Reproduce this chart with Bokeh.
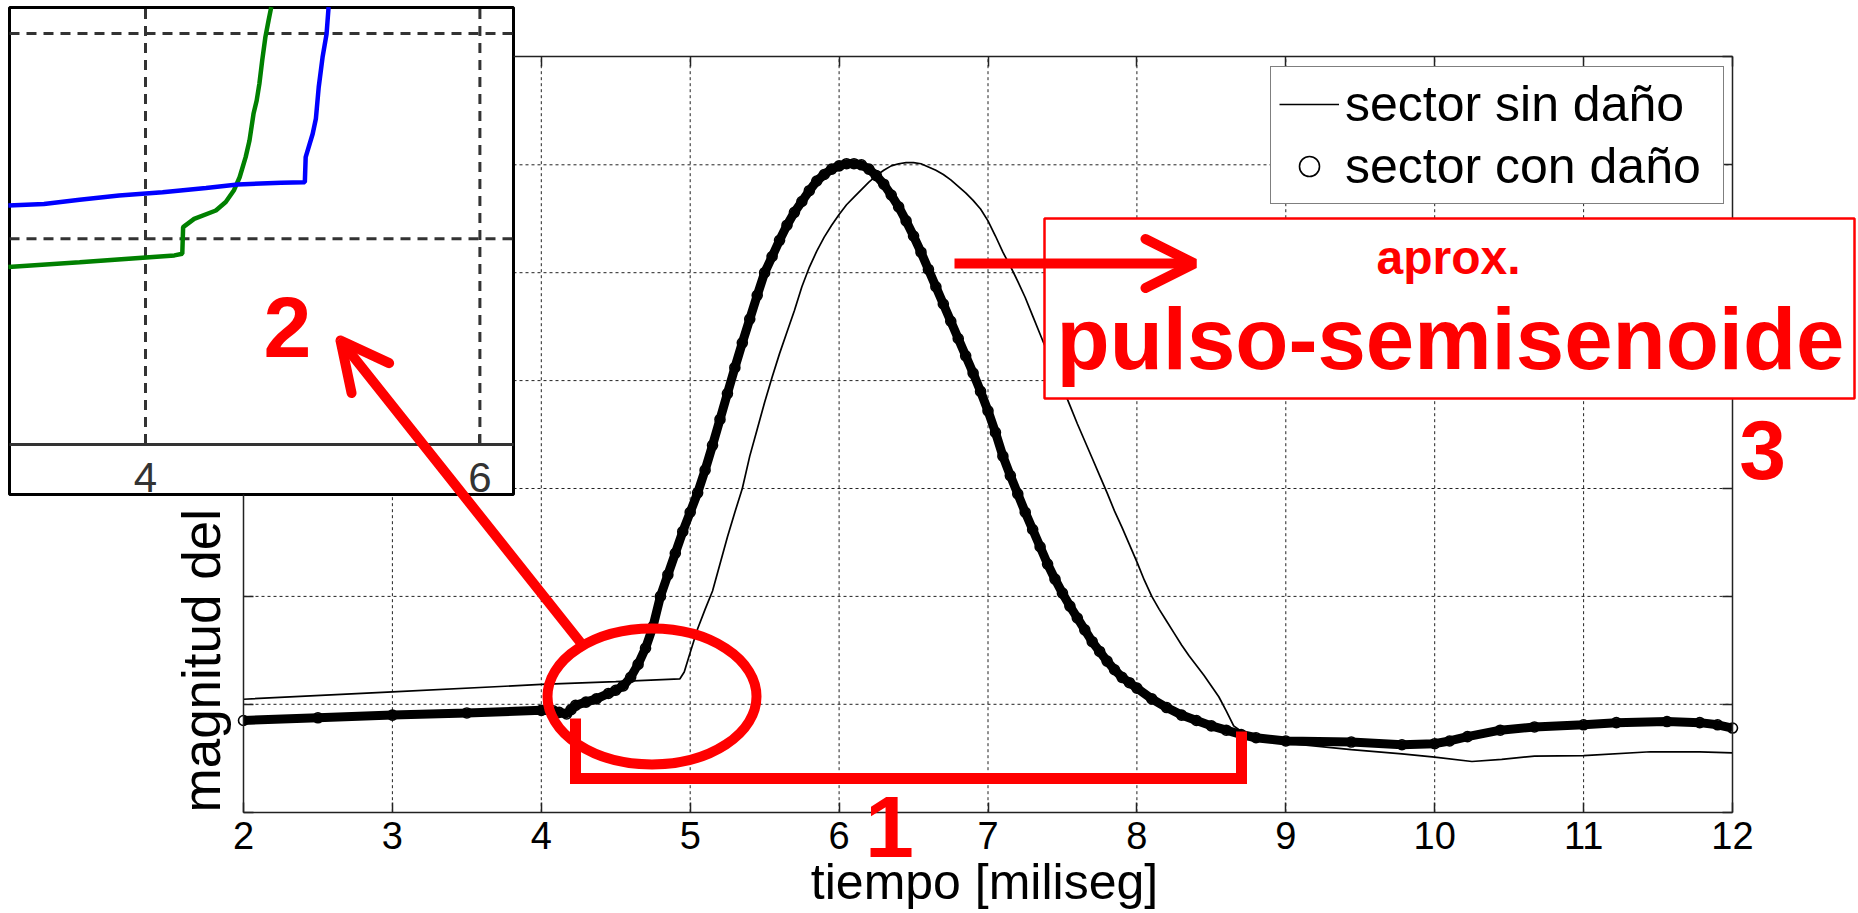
from math import pi
from bokeh.plotting import figure
from bokeh.models import (Range1d, LinearAxis, FixedTicker, Legend, LegendItem,
                          Label, Arrow, OpenHead, BoxAnnotation)
from bokeh.embed import file_html
from bokeh.resources import INLINE

W, H = 1858, 913

# ---------------- data ----------------
x_ticks = [2, 3, 4, 5, 6, 7, 8, 9, 10, 11, 12]
y_ticks = [0, 1, 2, 3, 4, 5, 6, 7]
legend_labels = ["sector sin daño", "sector con daño"]

t_sin = [2.0, 3.0, 4.0, 4.5, 4.93, 4.96,
         5.0, 5.05, 5.1, 5.15, 5.2, 5.25, 5.3, 5.35, 5.4, 5.45,
         5.5, 5.55, 5.6, 5.65, 5.7, 5.75, 5.8, 5.85, 5.9, 5.95,
         6.0, 6.05, 6.1, 6.15, 6.2, 6.25, 6.3, 6.35, 6.4, 6.45,
         6.5, 6.55, 6.6, 6.65, 6.7, 6.75, 6.8, 6.85, 6.9, 6.95,
         7.0, 7.05, 7.1, 7.15, 7.2, 7.25, 7.3, 7.35, 7.4, 7.45,
         7.5, 7.55, 7.6, 7.65, 7.7, 7.75, 7.8, 7.85, 7.9, 7.95,
         8.0, 8.05, 8.1, 8.15, 8.2, 8.25, 8.3, 8.35, 8.4, 8.45,
         8.5, 8.55, 8.6, 8.65, 8.7,
         8.8, 9.0, 9.44, 9.78, 10.0, 10.25, 10.45, 10.67, 11.0, 11.45, 11.78, 12.0]
y_sin = [1.047, 1.115, 1.184, 1.21, 1.235, 1.3,
         1.48, 1.7, 1.88, 2.05, 2.3, 2.55, 2.78, 3.0, 3.3, 3.55,
         3.8, 4.03, 4.25, 4.45, 4.65, 4.87, 5.05, 5.2, 5.33, 5.44,
         5.54, 5.63, 5.7, 5.77, 5.84, 5.9, 5.95, 5.99, 6.01, 6.02,
         6.02, 6.01, 5.98, 5.95, 5.91, 5.86, 5.8, 5.74, 5.67, 5.59,
         5.48, 5.34, 5.19, 5.06, 4.92, 4.77, 4.6, 4.43, 4.26, 4.1,
         3.94, 3.77, 3.6, 3.44, 3.28, 3.12, 2.96, 2.79, 2.64, 2.48,
         2.32, 2.15, 2.0, 1.88, 1.77, 1.66, 1.55, 1.45, 1.36, 1.27,
         1.17, 1.07, 0.94, 0.8, 0.75,
         0.70, 0.64, 0.58, 0.54, 0.51, 0.47, 0.49, 0.52, 0.525, 0.56, 0.56, 0.55]

t_con = [2.0, 2.5, 3.0, 3.5, 4.0, 4.08, 4.12, 4.17, 4.2, 4.23,
         4.3, 4.37, 4.45, 4.5, 4.55,
         4.6, 4.65, 4.7, 4.75, 4.8, 4.85, 4.9, 4.95,
         5.0, 5.05, 5.1, 5.15, 5.2, 5.25, 5.3, 5.35, 5.4, 5.45,
         5.5, 5.55, 5.6, 5.65, 5.7, 5.75, 5.8, 5.85, 5.9, 5.95,
         6.0, 6.05, 6.1, 6.15, 6.2, 6.25, 6.3, 6.35, 6.4, 6.45,
         6.5, 6.55, 6.6, 6.65, 6.7, 6.75, 6.8, 6.85, 6.9, 6.95,
         7.0, 7.05, 7.1, 7.15, 7.2, 7.25, 7.3, 7.35, 7.4, 7.45,
         7.5, 7.55, 7.6, 7.65, 7.7, 7.75, 7.8, 7.85, 7.9, 7.95,
         8.0, 8.1, 8.2, 8.3, 8.4, 8.5, 8.6, 8.7, 8.8,
         9.0, 9.44, 9.78, 10.0, 10.1, 10.22, 10.44, 10.67, 11.0, 11.22,
         11.56, 11.78, 11.9, 12.0]
y_con = [0.85, 0.875, 0.90, 0.92, 0.944, 0.94, 0.925, 0.91, 0.95, 0.99,
         1.02, 1.05, 1.10, 1.13, 1.17,
         1.25, 1.37, 1.52, 1.72, 2.0, 2.2, 2.4, 2.6,
         2.78, 2.96, 3.17, 3.4, 3.64, 3.88, 4.12, 4.35, 4.57, 4.79,
         5.0, 5.15, 5.3, 5.44, 5.56, 5.66, 5.76, 5.85, 5.91, 5.96,
         5.99, 6.01, 6.01, 6.0, 5.96, 5.9, 5.82, 5.72, 5.61, 5.48,
         5.34, 5.19, 5.03, 4.87, 4.71, 4.55, 4.39, 4.23, 4.07, 3.9,
         3.72, 3.52, 3.3, 3.12, 2.95, 2.78, 2.62, 2.46, 2.3, 2.16,
         2.03, 1.91, 1.8, 1.69, 1.58, 1.49, 1.4, 1.32, 1.25, 1.2,
         1.15, 1.05, 0.97, 0.9, 0.85, 0.8, 0.76, 0.72, 0.69,
         0.66, 0.65, 0.625, 0.635, 0.66, 0.70, 0.76, 0.79, 0.81, 0.83,
         0.84, 0.83, 0.81, 0.78]

# inset (zoomed view of the pulse start, other colours)
ins_ticks = [4, 6]
ins_grid_y = [1, 2]
ins_t_green = [3.180, 3.606, 4.173, 4.220, 4.225, 4.291, 4.421, 4.480, 4.528, 4.563,
               4.599, 4.622, 4.646, 4.665, 4.681, 4.698, 4.717, 4.736, 4.752]
ins_y_green = [0.862, 0.886, 0.919, 0.927, 1.057, 1.097, 1.138, 1.179, 1.235, 1.300,
               1.398, 1.479, 1.609, 1.674, 1.755, 1.869, 1.983, 2.064, 2.129]
ins_t_blue = [3.180, 3.393, 3.606, 3.842, 4.102, 4.362, 4.551, 4.811, 4.953, 4.958,
              5.000, 5.019, 5.036, 5.059, 5.083, 5.095]
ins_y_blue = [1.162, 1.170, 1.190, 1.211, 1.227, 1.248, 1.265, 1.273, 1.276, 1.398,
              1.512, 1.585, 1.739, 1.885, 1.999, 2.129]

# ---------------- page geometry (pixels) ----------------
X_PX2, X_PX12 = 243.0, 1732.0
Y_PX0, Y_PX7 = 811.7, 56.4
SX = (X_PX12 - X_PX2) / (x_ticks[-1] - x_ticks[0])
SY = (Y_PX0 - Y_PX7) / (y_ticks[-1] - y_ticks[0])
x_start = x_ticks[0] - X_PX2 / SX
x_end = x_ticks[0] + (W - X_PX2) / SX
y_end = Y_PX0 / SY
y_start = -(H - Y_PX0) / SY


def mx(px):
    return x_start + px / SX


def my(py):
    return y_end - py / SY


IX4_PX, IX6_PX, IY0_PX, IY1_PX = 145.0, 479.4, 443.5, 238.3
SXI = (IX6_PX - IX4_PX) / 2.0
SYI = IY0_PX - IY1_PX
ix_start = 4 - IX4_PX / SXI
ix_end = 4 + (W - IX4_PX) / SXI
iy_end = IY0_PX / SYI
iy_start = -(H - IY0_PX) / SYI


def ix(px):
    return ix_start + px / SXI


def iy(py):
    return iy_end - py / SYI


FONT = "Liberation Sans"
RED = "#FF0000"

p = figure(width=W, height=H, x_range=Range1d(x_start, x_end), y_range=Range1d(y_start, y_end),
           x_axis_type=None, y_axis_type=None, toolbar_location=None, output_backend="svg",
           min_border=0, outline_line_color=None, background_fill_color="white",
           border_fill_color="white")
p.extra_x_ranges = {"ix": Range1d(ix_start, ix_end)}
p.extra_y_ranges = {"iy": Range1d(iy_start, iy_end)}

# main grid
gx = x_ticks[1:-1]
gy = y_ticks[1:-1]
p.segment(x0=gx, y0=[y_ticks[0]] * len(gx), x1=gx, y1=[y_ticks[-1]] * len(gx),
          line_color="#222222", line_width=1, line_dash="3 3")
p.segment(x0=[x_ticks[0]] * len(gy), y0=gy, x1=[x_ticks[-1]] * len(gy), y1=gy,
          line_color="#222222", line_width=1, line_dash="3 3")

# curves
r_sin = p.line(t_sin, y_sin, line_color="black", line_width=1.7)
p.line(t_con, y_con, line_color="black", line_width=9)
r_con = p.scatter(t_con, y_con, marker="circle", size=10, fill_color=None,
                  line_color="black", line_width=1.6)

# inset
ib_l, ib_r, ib_b, ib_t = ix(9), ix(513), iy(494), iy(7)
p.quad(left=[ib_l], right=[ib_r], bottom=[ib_b], top=[ib_t], fill_color="white",
       line_color="black", line_width=3, x_range_name="ix", y_range_name="iy")
p.segment(x0=ins_ticks, y0=[0] * len(ins_ticks), x1=ins_ticks, y1=[ib_t] * len(ins_ticks),
          line_color="#333333", line_width=3, line_dash="10 7",
          x_range_name="ix", y_range_name="iy")
p.segment(x0=[ib_l] * len(ins_grid_y), y0=ins_grid_y, x1=[ib_r] * len(ins_grid_y), y1=ins_grid_y,
          line_color="#333333", line_width=3, line_dash="10 7",
          x_range_name="ix", y_range_name="iy")
p.line(ins_t_green, ins_y_green, line_color="#008000", line_width=4.5,
       x_range_name="ix", y_range_name="iy")
p.line(ins_t_blue, ins_y_blue, line_color="#0000FF", line_width=4.5,
       x_range_name="ix", y_range_name="iy")
ax_in = LinearAxis(x_range_name="ix", y_range_name="iy", fixed_location=0,
                   bounds=(ib_l, ib_r), ticker=FixedTicker(ticks=ins_ticks),
                   major_tick_in=10, major_tick_out=0, minor_tick_in=0, minor_tick_out=0,
                   axis_line_color="#333333", axis_line_width=3,
                   major_tick_line_color="#333333", major_tick_line_width=3,
                   major_label_text_font=FONT, major_label_text_font_size="42px",
                   major_label_text_color="#333333", major_label_standoff=19)
p.add_layout(ax_in, "below")

# main axes (box)
common = dict(major_tick_in=10, major_tick_out=0, minor_tick_in=0, minor_tick_out=0,
              axis_line_color="#222222", axis_line_width=1.5,
              major_tick_line_color="#222222", major_tick_line_width=1.5)
left_top = my(494)
top_left = mx(513)
ax_b = LinearAxis(fixed_location=y_ticks[0], bounds=(x_ticks[0], x_ticks[-1]),
                  ticker=FixedTicker(ticks=x_ticks), major_label_text_font=FONT,
                  major_label_text_font_size="38px", major_label_text_color="black",
                  major_label_standoff=10, **common)
p.add_layout(ax_b, "below")
ax_l = LinearAxis(fixed_location=x_ticks[0], bounds=(y_ticks[0], left_top),
                  ticker=FixedTicker(ticks=[t for t in y_ticks if t < left_top]),
                  major_label_text_color=None, **common)
p.add_layout(ax_l, "left")
ax_t = LinearAxis(fixed_location=y_ticks[-1], bounds=(top_left, x_ticks[-1]),
                  ticker=FixedTicker(ticks=[t for t in x_ticks if t > top_left]),
                  major_label_text_color=None, **common)
p.add_layout(ax_t, "above")
ax_r = LinearAxis(fixed_location=x_ticks[-1], bounds=(y_ticks[0], y_ticks[-1]),
                  ticker=FixedTicker(ticks=y_ticks), major_label_text_color=None, **common)
p.add_layout(ax_r, "right")

# axis titles
p.add_layout(Label(x=mx(984), y=my(881), text="tiempo [miliseg]", text_font=FONT,
                   text_font_size="50px", text_align="center", text_baseline="alphabetic",
                   text_color="black"))
p.add_layout(Label(x=mx(201), y=my(812), text="magnitud del", text_font=FONT,
                   text_font_size="53px", text_align="left", text_baseline="alphabetic",
                   angle=pi / 2, text_color="black"))

# legend
legend = Legend(items=[LegendItem(label=legend_labels[0], renderers=[r_sin]),
                       LegendItem(label=legend_labels[1], renderers=[r_con])],
                location=(1270, H - 204), orientation="vertical",
                label_text_font=FONT, label_text_font_size="50px", label_text_color="black",
                label_height=50, glyph_height=50, glyph_width=60, label_standoff=6,
                label_width=370, padding=8, spacing=4, margin=0,
                border_line_color="black", border_line_width=1.5,
                background_fill_color="white", background_fill_alpha=1.0)
p.add_layout(legend, "center")

# red annotations
p.add_layout(BoxAnnotation(left=mx(1044), right=mx(1854), top=my(218), bottom=my(398),
                           fill_color="white", fill_alpha=1.0, line_color=RED,
                           line_width=2.5, line_alpha=1.0))
p.add_layout(Label(x=mx(1448), y=my(283), text="aprox.", text_font=FONT, text_font_style="bold",
                   text_font_size="48px", text_align="center", text_color=RED))
p.add_layout(Label(x=mx(1450), y=my(386), text="pulso-semisenoide", text_font=FONT,
                   text_font_style="bold", text_font_size="87px", text_align="center",
                   text_color=RED))
p.add_layout(Label(x=mx(889), y=my(856), text="1", text_font=FONT, text_font_style="bold",
                   text_font_size="88px", text_align="center", text_color=RED))
p.add_layout(Label(x=mx(287), y=my(356), text="2", text_font=FONT, text_font_style="bold",
                   text_font_size="86px", text_align="center", text_color=RED))
p.add_layout(Label(x=mx(1762), y=my(478), text="3", text_font=FONT, text_font_style="bold",
                   text_font_size="84px", text_align="center", text_color=RED))

p.add_layout(Arrow(end=OpenHead(size=48, line_color=RED, line_width=10, line_cap="round"),
                   x_start=mx(580), y_start=my(642), x_end=mx(340), y_end=my(340),
                   line_color=RED, line_width=10, line_cap="round"))
p.add_layout(Arrow(end=OpenHead(size=49, line_color=RED, line_width=10, line_cap="round"),
                   x_start=mx(954), y_start=my(263), x_end=mx(1194), y_end=my(263),
                   line_color=RED, line_width=10, line_cap="butt"))

p.ellipse(x=[mx(651.5)], y=[my(696)], width=[209], height=[136], width_units="screen",
          height_units="screen", fill_color=None, line_color=RED, line_width=10, level="overlay")
p.line(x=[mx(575), mx(575), mx(1241), mx(1241)], y=[my(718), my(778), my(778), my(731)],
       line_color=RED, line_width=11, line_join="miter", level="overlay")

open("out.html", "w").write(file_html(p, INLINE))
